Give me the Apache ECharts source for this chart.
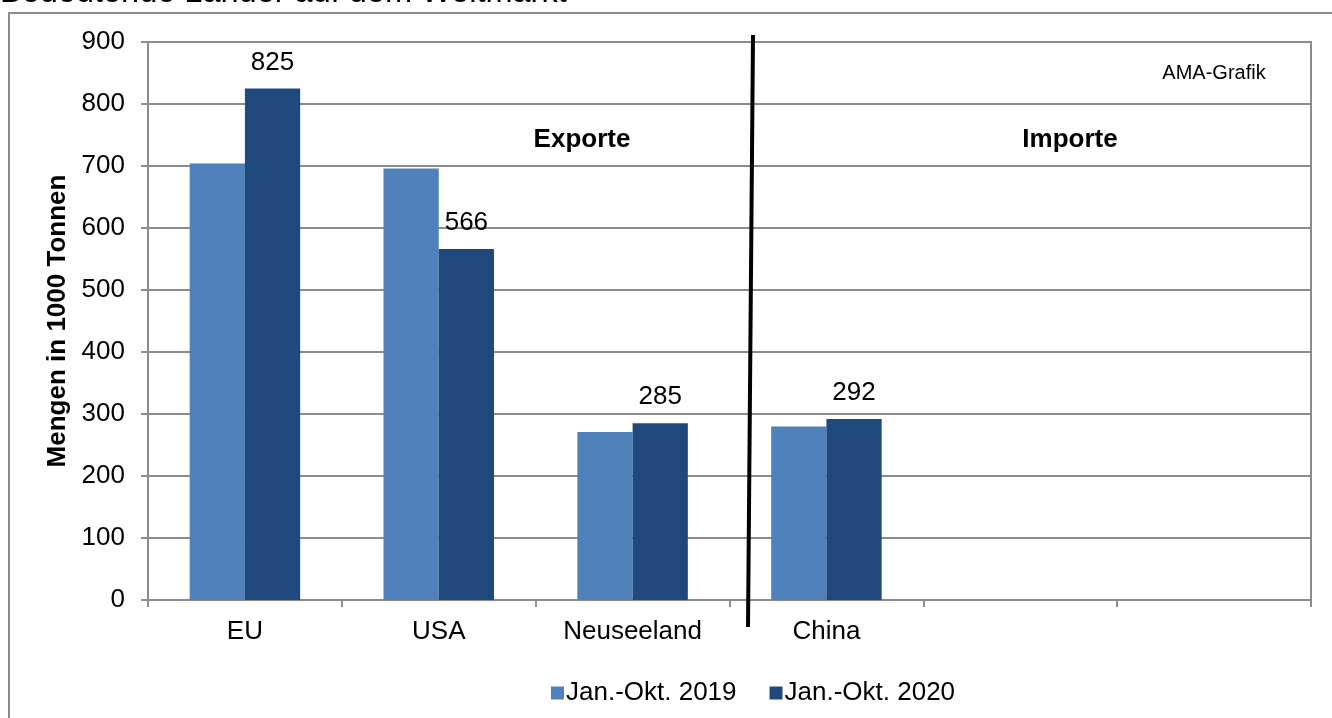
<!DOCTYPE html>
<html><head><meta charset="utf-8">
<script src="https://cdn.jsdelivr.net/npm/echarts@6/dist/echarts.min.js"></script>
<style>html,body{margin:0;padding:0;background:#fff}#c{width:1332px;height:718px}</style>
</head><body><div id="c"></div>
<script>
const categories = ['EU', 'USA', 'Neuseeland', 'China', '', ''];
const seriesNames = ['Jan.-Okt. 2019', 'Jan.-Okt. 2020'];
const values2019 = [704, 696, 271, 280, null, null];
const values2020 = [825, 566, 285, 292, null, null];
const yTicks = { min: 0, max: 900, interval: 100 };

const font = 'Liberation Sans, Arial, sans-serif';
const chart = echarts.init(document.getElementById('c'), null, { renderer: 'canvas' });
chart.setOption({
  animation: false,
  backgroundColor: '#fff',
  textStyle: { fontFamily: font },
  grid: { left: 148, right: 21, top: 42, bottom: 118, show: true, borderColor: '#8c8c8c', borderWidth: 2, containLabel: false },
  legend: {
    data: seriesNames, top: 675, left: 546, itemWidth: 13, itemHeight: 13, itemGap: 33,
    icon: 'rect', textStyle: { fontSize: 26, color: '#000', fontFamily: font, padding: [0, 0, 0, -3] }
  },
  xAxis: {
    type: 'category', data: categories,
    axisLine: { lineStyle: { color: '#8c8c8c', width: 2 } },
    axisTick: { show: true, length: 7, lineStyle: { color: '#8c8c8c', width: 2 } },
    axisLabel: { fontSize: 26, color: '#000', margin: 19, fontFamily: font }
  },
  yAxis: {
    type: 'value', min: yTicks.min, max: yTicks.max, interval: yTicks.interval,
    name: 'Mengen in 1000 Tonnen', nameLocation: 'middle', nameGap: 75,
    nameTextStyle: { fontSize: 26, fontWeight: 'bold', color: '#000', fontFamily: font },
    axisLine: { show: true, lineStyle: { color: '#8c8c8c', width: 2 } },
    axisTick: { show: true, length: 7, lineStyle: { color: '#8c8c8c', width: 2 } },
    axisLabel: { fontSize: 26, color: '#000', margin: 23, fontFamily: font },
    splitLine: { lineStyle: { color: '#8c8c8c', width: 2 } }
  },
  series: [
    { name: seriesNames[0], type: 'bar', data: values2019, barGap: '0%', barCategoryGap: '43%',
      itemStyle: { color: '#4F81BD' } },
    { name: seriesNames[1], type: 'bar', data: values2020, barGap: '0%', barCategoryGap: '43%',
      itemStyle: { color: '#1F497D' },
      label: { show: true, position: 'top', distance: 13, fontSize: 26, color: '#000', fontFamily: font } }
  ],
  graphic: [
    { type: 'rect', shape: { x: 9, y: 13, width: 1400, height: 800 }, style: { fill: 'none', stroke: '#8c8c8c', lineWidth: 2 }, z: -1 },
    { type: 'text', left: 0, top: -23, style: { text: 'Bedeutende Länder auf dem Weltmarkt', fontSize: 32.5, fill: '#000', fontFamily: font } },
    { type: 'line', shape: { x1: 753, y1: 35, x2: 748, y2: 627 }, style: { stroke: '#000', lineWidth: 4 }, z: 100 },
    { type: 'text', x: 582, y: 140, style: { text: 'Exporte', fontSize: 26, fontWeight: 'bold', fill: '#000', align: 'center', verticalAlign: 'middle', fontFamily: font } },
    { type: 'text', x: 1070, y: 140, style: { text: 'Importe', fontSize: 26, fontWeight: 'bold', fill: '#000', align: 'center', verticalAlign: 'middle', fontFamily: font } },
    { type: 'text', x: 1214, y: 73, style: { text: 'AMA-Grafik', fontSize: 20, fill: '#000', align: 'center', verticalAlign: 'middle', fontFamily: font } }
  ]
});
</script></body></html>
